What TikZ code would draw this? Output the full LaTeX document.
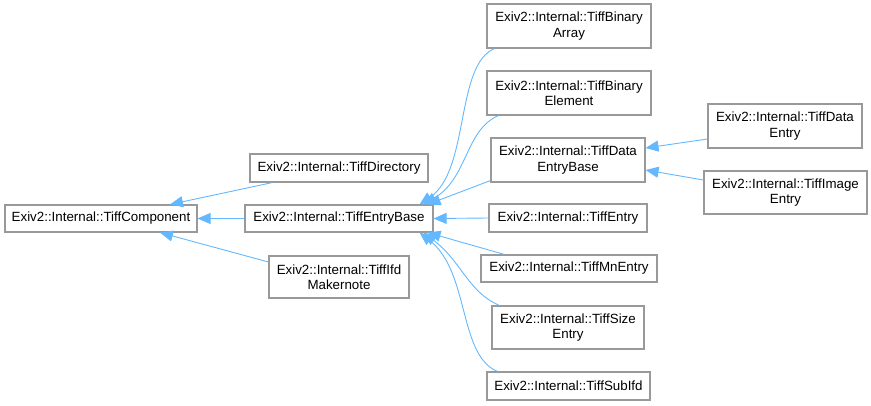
\documentclass[tikz,border=0pt]{standalone}
\usepackage{fontspec}
\setmainfont{Liberation Sans}
\usetikzlibrary{arrows.meta}
\definecolor{edgeblue}{HTML}{63B8FF}
\definecolor{boxgray}{HTML}{999999}
\begin{document}
\begin{tikzpicture}[x=1pt,y=-1pt,
  cls/.style={draw=boxgray,line width=1.1pt,fill=white,inner sep=0pt,align=center,
    font=\fontsize{13.33}{15.5}\selectfont},
  inh/.style={draw=edgeblue,line width=0.9pt,-{Triangle[length=13pt,width=11pt,fill=edgeblue]}}]
\useasboundingbox (0,0) rectangle (871,405);
\node[cls,minimum width=192pt,minimum height=27pt] (comp) at (101,218.5) {Exiv2::Internal::TiffComponent};
\node[cls,minimum width=178pt,minimum height=28pt] (dir) at (339,168) {Exiv2::Internal::TiffDirectory};
\node[cls,minimum width=188pt,minimum height=27pt] (eb) at (339,218.5) {Exiv2::Internal::TiffEntryBase};
\node[cls,minimum width=140pt,minimum height=42pt] (mk) at (339,277) {Exiv2::Internal::TiffIfd\\Makernote};
\node[cls,minimum width=164pt,minimum height=44pt] (ba) at (569,26) {Exiv2::Internal::TiffBinary\\Array};
\node[cls,minimum width=164pt,minimum height=44pt] (be) at (569,93) {Exiv2::Internal::TiffBinary\\Element};
\node[cls,minimum width=154pt,minimum height=44pt] (deb) at (568,160) {Exiv2::Internal::TiffData\\EntryBase};
\node[cls,minimum width=158pt,minimum height=28pt] (te) at (568,218) {Exiv2::Internal::TiffEntry};
\node[cls,minimum width=176pt,minimum height=27pt] (mn) at (569,268.5) {Exiv2::Internal::TiffMnEntry};
\node[cls,minimum width=152pt,minimum height=43pt] (se) at (568,327.5) {Exiv2::Internal::TiffSize\\Entry};
\node[cls,minimum width=163pt,minimum height=28pt] (si) at (568.5,386) {Exiv2::Internal::TiffSubIfd};
\node[cls,minimum width=154pt,minimum height=44pt] (de) at (785,126) {Exiv2::Internal::TiffData\\Entry};
\node[cls,minimum width=163pt,minimum height=43pt] (ie) at (785.5,192.5) {Exiv2::Internal::TiffImage\\Entry};

\draw[inh] ([xshift=23pt]dir.south west) -- ([xshift=69pt]comp.north);
\draw[inh] (eb.west) -- (comp.east);
\draw[inh] ([yshift=15pt]mk.west) -- ([xshift=59pt]comp.south);

\draw[inh] ([xshift=8pt]ba.south west) .. controls (455,65) and (470,170) .. ([xshift=-14pt]eb.north east);
\draw[inh] ([xshift=12pt]be.south west) .. controls (465,130) and (468,178) .. ([xshift=-10pt]eb.north east);
\draw[inh] ([yshift=2pt]deb.south west) -- ([xshift=-6pt]eb.north east);
\draw[inh] (te.west) -- (eb.east);
\draw[inh] ([xshift=24pt]mn.north west) -- ([xshift=-6pt]eb.south east);
\draw[inh] ([xshift=8pt]se.north west) .. controls (468,292) and (462,262) .. ([xshift=-10pt]eb.south east);
\draw[inh] ([xshift=11pt]si.north west) .. controls (458,355) and (470,272) .. ([xshift=-14pt]eb.south east);

\draw[inh] ([yshift=-13pt]de.west) -- ([yshift=12pt]deb.east);
\draw[inh] ([yshift=12.5pt]ie.west) -- ([yshift=-10pt]deb.east);
\end{tikzpicture}
\end{document}
